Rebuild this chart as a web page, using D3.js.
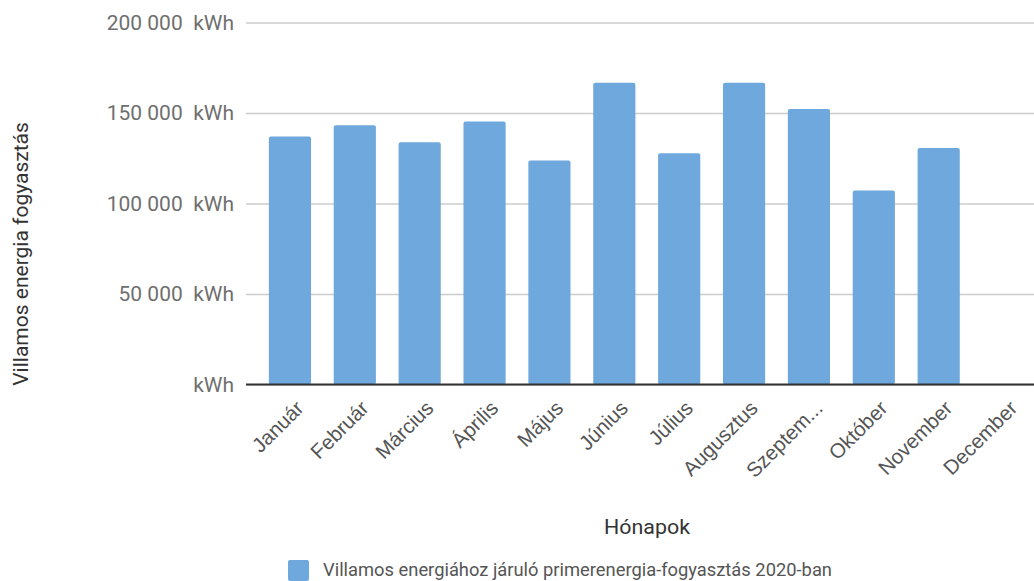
<!DOCTYPE html>
<html>
<head>
<meta charset="utf-8">
<script src="https://cdn.jsdelivr.net/npm/d3@7"></script>
<style>
  body { margin: 0; background: #fff; }
  svg { display: block; font-family: Roboto, "Noto Sans", sans-serif; }
  text { white-space: pre; }
</style>
</head>
<body>
<div id="chart"></div>
<script>
const months = ['Január','Február','Március','Április','Május','Június','Július','Augusztus','Szeptem...','Október','November','December'];
const values = [137000, 143300, 133900, 145300, 123700, 166700, 127800, 166700, 152200, 107200, 130700, 0];
const yTicks = [0, 50000, 100000, 150000, 200000];
const seriesName = 'Villamos energiához járuló primerenergia-fogyasztás 2020-ban';
const yTitle = 'Villamos energia fogyasztás';
const xTitle = 'Hónapok';

const width = 1034, height = 581;
const plotLeft = 246, plotRight = 1034, plotTop = 22.5, plotBottom = 384.5;

const svg = d3.select('#chart').append('svg')
  .attr('width', width)
  .attr('height', height);

const x = d3.scaleBand().domain(months).range([257.5, 1036]).paddingInner(0.35).paddingOuter(0.175);
const y = d3.scaleLinear().domain([0, 200000]).range([plotBottom, plotTop]);

const fmt = d => d === 0 ? 'kWh' : d3.format(',')(d).replace(/,/g, ' ') + '  kWh';

// gridlines + y labels
const yAxis = svg.append('g')
  .attr('transform', `translate(${plotLeft},0)`)
  .call(d3.axisLeft(y).tickValues(yTicks).tickSize(-(plotRight - plotLeft)).tickPadding(12).tickFormat(fmt));
yAxis.select('.domain').remove();
yAxis.selectAll('.tick line').attr('stroke', '#cccccc').attr('stroke-width', 1.5);
yAxis.selectAll('.tick text')
  .attr('fill', '#6f6f6f')
  .attr('font-size', 21)
  .attr('font-family', 'Roboto, sans-serif');

// bars
svg.append('g').selectAll('rect')
  .data(months.map((m, i) => ({ month: m, value: values[i] })).filter(d => d.value > 0))
  .enter()
  .append('rect')
  .attr('x', d => x(d.month))
  .attr('y', d => y(d.value))
  .attr('width', x.bandwidth())
  .attr('height', d => y(0) - y(d.value))
  .attr('rx', 2)
  .attr('fill', '#6fa8dc');

// baseline
svg.append('line')
  .attr('x1', plotLeft).attr('x2', plotRight)
  .attr('y1', y(0)).attr('y2', y(0))
  .attr('stroke', '#333333')
  .attr('stroke-width', 2);

// x labels
const xAxis = svg.append('g')
  .attr('transform', `translate(0,${plotBottom})`)
  .call(d3.axisBottom(x).tickSize(0).tickPadding(0));
xAxis.select('.domain').remove();
xAxis.selectAll('.tick text')
  .attr('fill', '#555555')
  .attr('font-size', 20.5)
  .attr('text-anchor', 'end')
  .attr('dy', null)
  .attr('y', 0)
  .attr('transform', 'translate(15,25) rotate(-45)');

// axis titles
svg.append('text')
  .attr('transform', 'translate(28,254) rotate(-90)')
  .attr('text-anchor', 'middle')
  .attr('fill', '#333333')
  .attr('font-size', 21)
  .text(yTitle);

svg.append('text')
  .attr('x', 647)
  .attr('y', 534)
  .attr('text-anchor', 'middle')
  .attr('fill', '#333333')
  .attr('font-size', 20)
  .attr('textLength', 86)
  .attr('lengthAdjust', 'spacingAndGlyphs')
  .text(xTitle);

// legend
svg.append('rect')
  .attr('x', 288).attr('y', 560)
  .attr('width', 21).attr('height', 21)
  .attr('rx', 2)
  .attr('fill', '#6fa8dc');
svg.append('text')
  .attr('x', 323)
  .attr('y', 576)
  .attr('fill', '#555555')
  .attr('font-size', 18)
  .attr('textLength', 509)
  .attr('lengthAdjust', 'spacingAndGlyphs')
  .text(seriesName);
</script>
</body>
</html>
